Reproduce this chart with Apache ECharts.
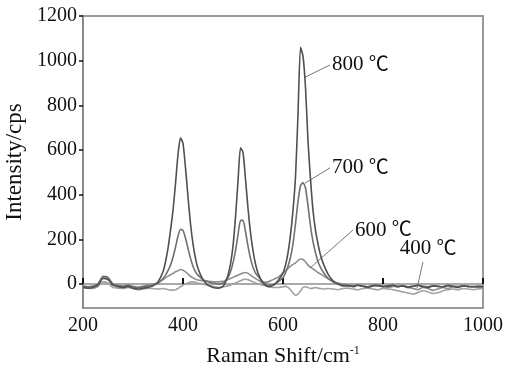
<!DOCTYPE html>
<html>
<head>
<meta charset="utf-8">
<script src="https://cdn.jsdelivr.net/npm/echarts@6/dist/echarts.min.js"></script>
<style>
  html, body { margin: 0; padding: 0; background: #fff; }
  #chart { width: 506px; height: 369px; }
</style>
</head>
<body>
<div id="chart"></div>
<script>
// Raman shift (cm^-1), denser sampling around the three bands
const shift = [
  200,210,220,230,240,250,260,270,280,290,300,310,320,330,340,350,360,
  365,370,375,380,385,390,395,400,405,410,415,420,425,430,
  440,450,460,470,480,
  485,490,495,500,505,510,515,520,525,530,535,540,545,550,
  560,570,580,590,600,
  605,610,615,620,625,630,635,640,645,650,655,660,665,670,675,680,
  690,700,710,720,730,740,750,760,770,780,790,800,810,820,830,840,850,
  860,870,880,890,900,910,920,930,940,950,960,970,980,990,1000
];

// Intensity (cps) for each annealing temperature
const t800 = [
  -15,-18,-15,-5,25,20,-5,-12,-15,-10,-18,-22,-18,-15,-8,10,55,
  100,160,240,330,450,580,655,630,520,390,270,180,115,70,
  20,-5,-15,-18,-10,
  10,40,90,170,300,460,610,590,470,340,230,150,90,50,
  5,-12,-5,15,50,
  85,140,220,330,480,760,1060,1020,880,640,470,330,240,180,130,95,
  45,15,0,-8,-8,-12,-5,-10,-15,-8,-5,-12,-10,-5,-12,-8,-15,
  -10,-5,-12,-15,-8,-10,-12,-5,-10,-15,-8,-10,-12,-10,-12
];
const t700 = [
  -10,-12,-10,0,35,30,0,-8,-10,-5,-12,-15,-12,-8,-5,5,25,
  40,60,85,120,165,215,245,240,205,160,115,80,55,40,
  20,10,5,0,5,
  15,30,55,95,150,220,285,285,235,170,115,75,50,35,
  10,-5,-5,10,30,
  50,80,120,180,270,370,440,455,430,350,260,190,140,100,75,55,
  25,10,0,-5,-5,-8,-5,-10,-12,-5,-8,-10,-8,-5,-10,-8,-12,
  -10,-5,-10,-12,-8,-10,-12,-8,-10,-12,-8,-10,-12,-10,-10
];
const t600 = [
  -10,-12,-10,0,30,25,0,-5,-10,-5,-10,-15,-10,-5,0,5,20,
  28,35,42,48,55,60,65,62,55,45,35,28,22,18,
  15,12,10,10,12,
  15,20,25,30,35,40,45,50,52,48,40,32,25,18,
  8,10,20,30,50,
  60,70,80,88,95,105,112,110,100,85,75,68,60,52,45,38,
  25,12,5,0,-5,-8,-5,-10,-12,-5,-8,-10,-15,-10,-12,-8,-15,
  -20,-25,-15,-20,-28,-22,-15,-20,-12,-10,-8,-12,-10,-15,-12
];
const t400 = [
  -15,-18,-20,-10,10,5,-15,-18,-20,-15,-20,-25,-22,-18,-20,-22,-20,
  -22,-25,-27,-27,-25,-20,-12,-5,0,5,10,10,8,5,
  0,-5,-10,-15,-12,
  -10,-8,-5,0,5,10,15,20,22,20,15,10,5,0,
  -5,-10,-15,-15,-12,
  -10,-15,-25,-40,-50,-45,-30,-15,-12,-15,-20,-18,-15,-18,-20,-22,
  -20,-22,-25,-20,-18,-22,-25,-20,-18,-22,-25,-20,-22,-25,-30,-35,-40,
  -45,-38,-30,-35,-42,-38,-30,-25,-22,-25,-20,-22,-25,-22,-20
];

const seriesNames = ['800 ℃', '700 ℃', '600 ℃', '400 ℃'];
const yTicks = [0, 200, 400, 600, 800, 1000, 1200];

const FONT = "'Liberation Serif', serif";
const CJK = "'Noto Sans CJK SC', 'Noto Sans CJK JP', sans-serif";
const INK = '#111';

function pairs(values) {
  return shift.map((x, i) => [x, values[i]]);
}

// Leader line from the curve to its temperature label
function leader(from, to, labelPos, labelOffset) {
  return {
    markLine: {
      silent: true,
      symbol: ['none', 'none'],
      animation: false,
      lineStyle: { color: '#777', width: 1, type: 'solid' },
      label: { show: false },
      emphasis: { disabled: true },
      data: [[{ coord: from }, { coord: to }]]
    },
    markPoint: {
      silent: true,
      animation: false,
      symbol: 'circle',
      symbolSize: 0,
      itemStyle: { color: 'transparent' },
      data: [{ coord: to }]
    },
    labelPos: labelPos,
    labelOffset: labelOffset
  };
}

function makeSeries(name, values, color, z, ann) {
  const s = {
    name: name,
    type: 'line',
    data: pairs(values),
    showSymbol: false,
    smooth: 0.2,
    z: z,
    lineStyle: { color: color, width: 1.6 },
    itemStyle: { color: color },
    animation: false,
    markLine: ann.markLine,
    markPoint: ann.markPoint
  };
  s.markPoint.label = {
    show: true,
    formatter: name.replace('℃', '{deg|℃}'),
    position: ann.labelPos,
    distance: 2,
    offset: ann.labelOffset,
    color: INK,
    fontSize: 21,
    fontFamily: FONT,
    rich: {
      deg: { fontSize: 20, fontFamily: CJK, color: INK, padding: [0, 0, 3, 0] }
    }
  };
  return s;
}

const plain = v => String(v);

const chart = echarts.init(document.getElementById('chart'), null, { renderer: 'canvas' });

chart.setOption({
  backgroundColor: '#fff',
  animation: false,
  grid: {
    left: 83, right: 23, top: 16, bottom: 61,
    containLabel: false,
    outerBoundsMode: 'none',
    show: true, borderColor: '#9a9a9a', borderWidth: 2, backgroundColor: 'transparent'
  },
  xAxis: {
    type: 'value',
    min: 200, max: 1000, interval: 200,
    axisLine: { show: true, lineStyle: { color: '#aaa', width: 2 } },
    axisTick: { show: true, inside: true, length: 6, lineStyle: { color: INK, width: 2 } },
    axisLabel: { color: INK, fontSize: 20, fontFamily: FONT, margin: 8, formatter: plain },
    splitLine: { show: false },
    name: 'Raman Shift/cm{sup|-1}',
    nameLocation: 'middle',
    nameGap: 37,
    nameTextStyle: {
      color: INK, fontSize: 22, fontFamily: FONT,
      rich: { sup: { fontSize: 12, fontFamily: FONT, color: INK, verticalAlign: 'top', padding: [0, 0, 10, 0] } }
    }
  },
  yAxis: {
    type: 'value',
    min: -107, max: 1200,
    axisLine: { show: true, lineStyle: { color: '#8a8a8a', width: 2 } },
    axisTick: { show: true, inside: false, length: 4, customValues: yTicks, lineStyle: { color: INK, width: 1.5 } },
    axisLabel: { color: INK, fontSize: 20, fontFamily: FONT, margin: 6, customValues: yTicks, formatter: plain },
    splitLine: { show: false },
    name: 'Intensity/cps',
    nameLocation: 'middle',
    nameGap: 55,
    nameTextStyle: { color: INK, fontSize: 23, fontFamily: FONT }
  },
  series: [
    makeSeries(seriesNames[3], t400, '#a2a2a2', 2, leader([868, -18], [880, 99], 'top', [5, 0])),
    makeSeries(seriesNames[2], t600, '#8e8e8e', 3, leader([654, 72], [740, 242], 'right', [0, 0])),
    makeSeries(seriesNames[1], t700, '#707070', 4, leader([644, 452], [694, 520], 'right', [0, 0])),
    makeSeries(seriesNames[0], t800, '#505050', 5, leader([644, 926], [694, 981], 'right', [0, 0]))
  ]
});
</script>
</body>
</html>
